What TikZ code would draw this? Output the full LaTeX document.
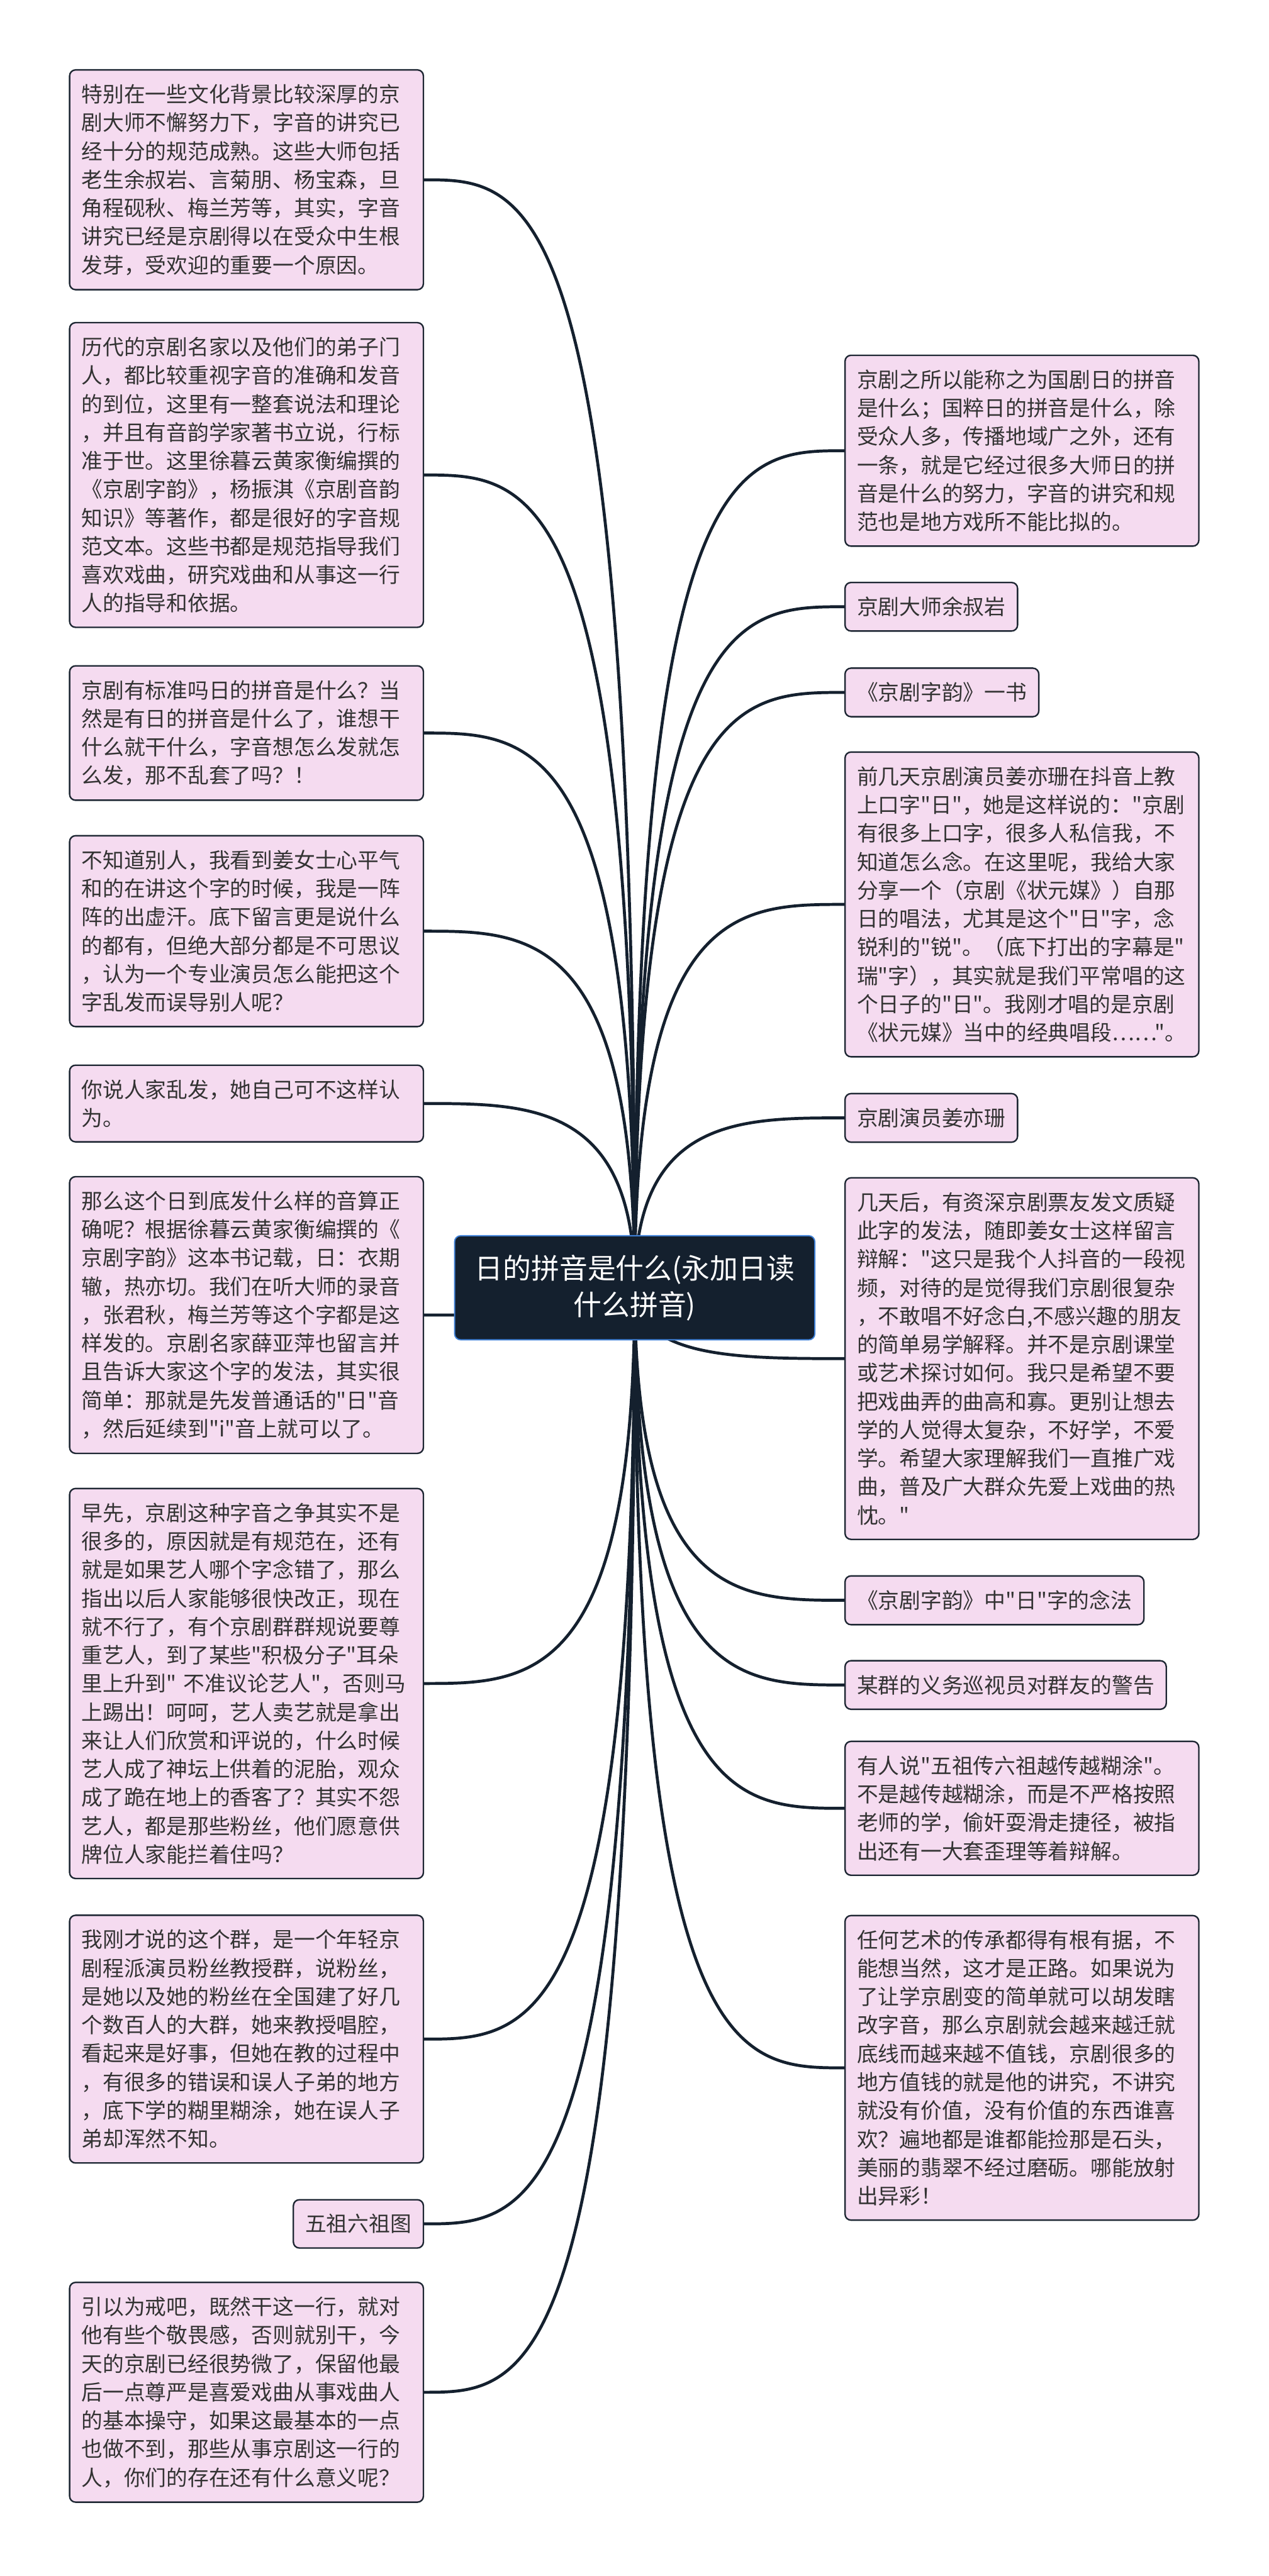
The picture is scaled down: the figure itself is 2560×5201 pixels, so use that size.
\documentclass[tikz,border=0pt]{standalone}
\usepackage{fontspec}
\newfontfamily\cjkfont{Noto Sans CJK SC}
\usetikzlibrary{calc,backgrounds}

\definecolor{navy}{HTML}{14202E}
\definecolor{rootedge}{HTML}{3F80D6}
\definecolor{leaffill}{HTML}{F5DBF0}
\definecolor{leafedge}{HTML}{1E2733}
\definecolor{leaftext}{HTML}{333333}

\begin{document}
\begin{tikzpicture}[x=0.1mm,y=-0.1mm,
  topic/.style={draw=rootedge, line width=.25mm, fill=navy, text=white, rounded corners=1.2mm,
    align=center, minimum width=72.7mm, minimum height=21mm, inner xsep=3mm,
    font=\cjkfont\fontsize{16.2pt}{21pt}\selectfont},
  leaf/.style={draw=leafedge, line width=.3mm, fill=leaffill, text=leaftext, rounded corners=1.2mm,
    inner xsep=2.4mm, inner ysep=2.9mm, font=\cjkfont\fontsize{12.2pt}{16.35pt}\selectfont},
  para/.style={leaf, text width=66.6mm, align=left},
  branch/.style={draw=navy, line width=.6mm,
    to path={.. controls (\tikztostart |- \tikztotarget) and ($(\tikztostart |- \tikztotarget)!.5!(\tikztotarget)$) .. (\tikztotarget)}}]
\useasboundingbox (0,0) rectangle (2560,5201);

\node[topic] (root) at (1281,2600) {日的拼音是什么(永加日读\\什么拼音)};

% left side
\node[para, anchor=east] (l1) at (856,363) {特别在一些文化背景比较深厚的京\\剧大师不懈努力下，字音的讲究已\\经十分的规范成熟。这些大师包括\\老生余叔岩、言菊朋、杨宝森，旦\\角程砚秋、梅兰芳等，其实，字音\\讲究已经是京剧得以在受众中生根\\发芽，受欢迎的重要一个原因。};
\node[para, anchor=east] (l2) at (856,959) {历代的京剧名家以及他们的弟子门\\人，都比较重视字音的准确和发音\\的到位，这里有一整套说法和理论\\，并且有音韵学家著书立说，行标\\准于世。这里徐暮云黄家衡编撰的\\《京剧字韵》，杨振淇《京剧音韵\\知识》等著作，都是很好的字音规\\范文本。这些书都是规范指导我们\\喜欢戏曲，研究戏曲和从事这一行\\人的指导和依据。};
\node[para, anchor=east] (l3) at (856,1480) {京剧有标准吗日的拼音是什么？当\\然是有日的拼音是什么了，谁想干\\什么就干什么，字音想怎么发就怎\\么发，那不乱套了吗？！};
\node[para, anchor=east] (l4) at (856,1880) {不知道别人，我看到姜女士心平气\\和的在讲这个字的时候，我是一阵\\阵的出虚汗。底下留言更是说什么\\的都有，但绝大部分都是不可思议\\，认为一个专业演员怎么能把这个\\字乱发而误导别人呢？};
\node[para, anchor=east] (l5) at (856,2228) {你说人家乱发，她自己可不这样认\\为。};
\node[para, anchor=east] (l6) at (856,2655) {那么这个日到底发什么样的音算正\\确呢？根据徐暮云黄家衡编撰的《\\京剧字韵》这本书记载，日：衣期\\辙，热亦切。我们在听大师的录音\\，张君秋，梅兰芳等这个字都是这\\样发的。京剧名家薛亚萍也留言并\\且告诉大家这个字的发法，其实很\\简单：那就是先发普通话的"日"音\\，然后延续到"i"音上就可以了。};
\node[para, anchor=east] (l7) at (856,3399) {早先，京剧这种字音之争其实不是\\很多的，原因就是有规范在，还有\\就是如果艺人哪个字念错了，那么\\指出以后人家能够很快改正，现在\\就不行了，有个京剧群群规说要尊\\重艺人，到了某些"积极分子"耳朵\\里上升到" 不准议论艺人"，否则马\\上踢出！呵呵，艺人卖艺就是拿出\\来让人们欣赏和评说的，什么时候\\艺人成了神坛上供着的泥胎，观众\\成了跪在地上的香客了？其实不怨\\艺人，都是那些粉丝，他们愿意供\\牌位人家能拦着住吗？};
\node[para, anchor=east] (l8) at (856,4117) {我刚才说的这个群，是一个年轻京\\剧程派演员粉丝教授群，说粉丝，\\是她以及她的粉丝在全国建了好几\\个数百人的大群，她来教授唱腔，\\看起来是好事，但她在教的过程中\\，有很多的错误和误人子弟的地方\\，底下学的糊里糊涂，她在误人子\\弟却浑然不知。};
\node[leaf, anchor=east] (l9) at (856,4490) {五祖六祖图};
\node[para, anchor=east] (l10) at (856,4830) {引以为戒吧，既然干这一行，就对\\他有些个敬畏感，否则就别干，今\\天的京剧已经很势微了，保留他最\\后一点尊严是喜爱戏曲从事戏曲人\\的基本操守，如果这最基本的一点\\也做不到，那些从事京剧这一行的\\人，你们的存在还有什么意义呢？};

% right side
\node[para, anchor=west] (r1) at (1704,910) {京剧之所以能称之为国剧日的拼音\\是什么；国粹日的拼音是什么，除\\受众人多，传播地域广之外，还有\\一条，就是它经过很多大师日的拼\\音是什么的努力，字音的讲究和规\\范也是地方戏所不能比拟的。};
\node[leaf, anchor=west] (r2) at (1704,1225) {京剧大师余叔岩};
\node[leaf, anchor=west] (r3) at (1704,1398) {《京剧字韵》一书};
\node[para, anchor=west] (r4) at (1704,1826) {前几天京剧演员姜亦珊在抖音上教\\上口字"日"，她是这样说的："京剧\\有很多上口字，很多人私信我，不\\知道怎么念。在这里呢，我给大家\\分享一个（京剧《状元媒》）自那\\日的唱法，尤其是这个"日"字，念\\锐利的"锐"。（底下打出的字幕是"\\瑞"字），其实就是我们平常唱的这\\个日子的"日"。我刚才唱的是京剧\\《状元媒》当中的经典唱段……"。};
\node[leaf, anchor=west] (r5) at (1704,2257) {京剧演员姜亦珊};
\node[para, anchor=west] (r6) at (1704,2743) {几天后，有资深京剧票友发文质疑\\此字的发法，随即姜女士这样留言\\辩解："这只是我个人抖音的一段视\\频，对待的是觉得我们京剧很复杂\\，不敢唱不好念白,不感兴趣的朋友\\的简单易学解释。并不是京剧课堂\\或艺术探讨如何。我只是希望不要\\把戏曲弄的曲高和寡。更别让想去\\学的人觉得太复杂，不好学，不爱\\学。希望大家理解我们一直推广戏\\曲，普及广大群众先爱上戏曲的热\\忱。"};
\node[leaf, anchor=west] (r7) at (1704,3231) {《京剧字韵》中"日"字的念法};
\node[leaf, anchor=west] (r8) at (1704,3402) {某群的义务巡视员对群友的警告};
\node[para, anchor=west] (r9) at (1704,3651) {有人说"五祖传六祖越传越糊涂"。\\不是越传越糊涂，而是不严格按照\\老师的学，偷奸耍滑走捷径，被指\\出还有一大套歪理等着辩解。};
\node[para, anchor=west] (r10) at (1704,4175) {任何艺术的传承都得有根有据，不\\能想当然，这才是正路。如果说为\\了让学京剧变的简单就可以胡发瞎\\改字音，那么京剧就会越来越迁就\\底线而越来越不值钱，京剧很多的\\地方值钱的就是他的讲究，不讲究\\就没有价值，没有价值的东西谁喜\\欢？遍地都是谁都能捡那是石头，\\美丽的翡翠不经过磨砺。哪能放射\\出异彩！};

% connectors behind the boxes
\begin{scope}[on background layer]
\fill[white] (0,0) rectangle (2560,5201);
\foreach \n in {l1,l2,l3,l4,l5,l6,l7,l8,l9,l10}
  \draw[branch] (root.center) to (\n.east);
\foreach \n in {r1,r2,r3,r4,r5,r6,r7,r8,r9,r10}
  \draw[branch] (root.center) to (\n.west);
\end{scope}
\end{tikzpicture}
\end{document}
